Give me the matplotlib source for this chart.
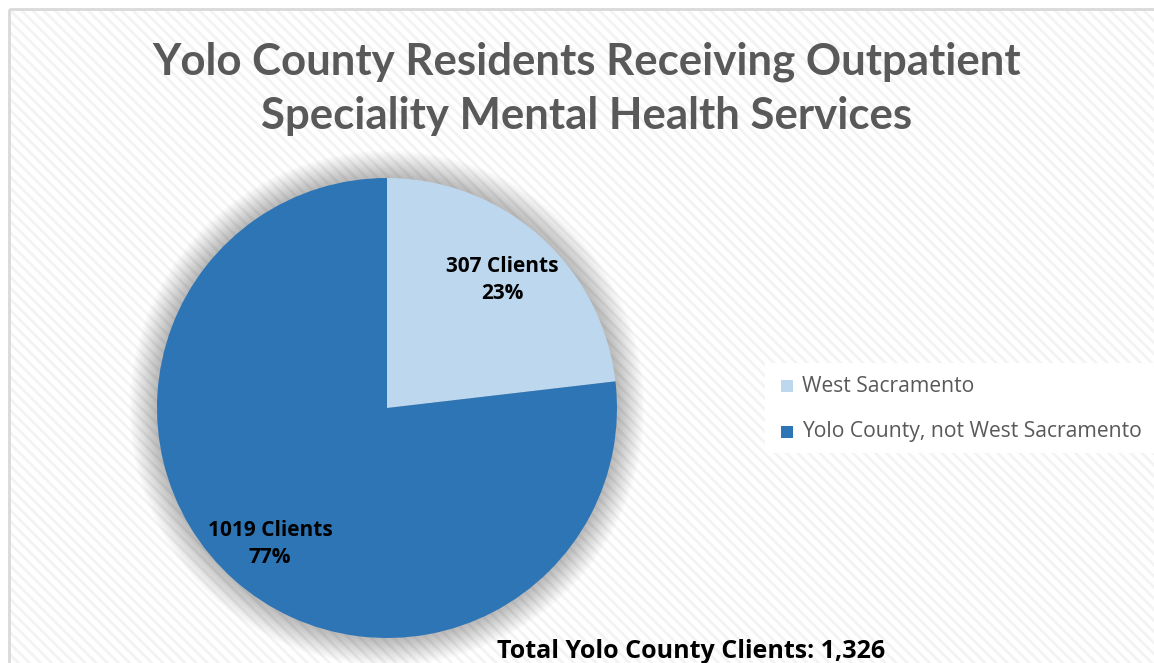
import matplotlib
matplotlib.use("Agg")
import matplotlib.pyplot as plt
from matplotlib.patches import Rectangle, Circle

labels = ["West Sacramento", "Yolo County, not West Sacramento"]
clients = [307, 1019]
colors = ["#bdd7ee", "#2e75b6"]
title = "Yolo County Residents Receiving Outpatient\nSpeciality Mental Health Services"
total_text = "Total Yolo County Clients: 1,326"

plt.rcParams['hatch.linewidth'] = 2.0
W, H = 1154, 663
fig = plt.figure(figsize=(W / 100, H / 100), dpi=100)
fig.patch.set_facecolor("white")

bg = fig.add_axes([0, 0, 1, 1], zorder=0)
bg.set_xlim(0, W)
bg.set_ylim(H, 0)
bg.axis("off")
bg.add_patch(Rectangle((9, 9), W + 20, H + 20, facecolor="white",
                       edgecolor="#f3f3f3", hatch="\\\\\\", lw=0))
bg.add_patch(Rectangle((9, 9), W + 20, H + 20, facecolor="none",
                       edgecolor="#d9d9d9", lw=2))

# pie
cx, cy, r = 387, 408, 230
pax = fig.add_axes([(cx - r) / W, (H - cy - r) / H, 2 * r / W, 2 * r / H], zorder=1)
for i in range(18):
    pax.add_patch(Circle((0, 0), 1 + 0.007 * i, facecolor="#000000",
                         alpha=0.015, lw=0, clip_on=False, zorder=0))
wedges, _ = pax.pie(clients, colors=colors, startangle=90, counterclock=False,
                    radius=1, wedgeprops=dict(linewidth=0))
for w in wedges:
    w.set_zorder(2)
pax.set_xlim(-1, 1)
pax.set_ylim(-1, 1)
pax.set_aspect("equal")
pax.axis("off")

# overlay for text
top = fig.add_axes([0, 0, 1, 1], zorder=2)
top.set_xlim(0, W)
top.set_ylim(H, 0)
top.axis("off")
top.patch.set_alpha(0)

top.text(587, 89, title, ha="center", va="center", fontsize=31.5,
         fontweight="bold", color="#595959", family="Lato", linespacing=1.42)

tot = sum(clients)
pos = [(502, 280), (270, 544)]
for (x, y), v in zip(pos, clients):
    top.text(x, y, f"{v} Clients\n{round(100 * v / tot)}%", ha="center",
             va="center", fontsize=15, fontweight="bold", color="black",
             family="Open Sans", linespacing=1.4)

# legend
top.add_patch(Rectangle((765, 363), 390, 90, facecolor="white", lw=0))
for i, (lab, c) in enumerate(zip(labels, colors)):
    y = 386 + i * 46
    top.add_patch(Rectangle((781, y - 6), 12, 12, facecolor=c, lw=0))
    top.text(802, y, lab, ha="left", va="center", fontsize=15.2, color="#595959",
             family="Open Sans")

top.text(691, 651, total_text, ha="center", va="center", fontsize=18,
         fontweight="bold", color="black", family="Open Sans")

fig.savefig("out.png", dpi=100)
